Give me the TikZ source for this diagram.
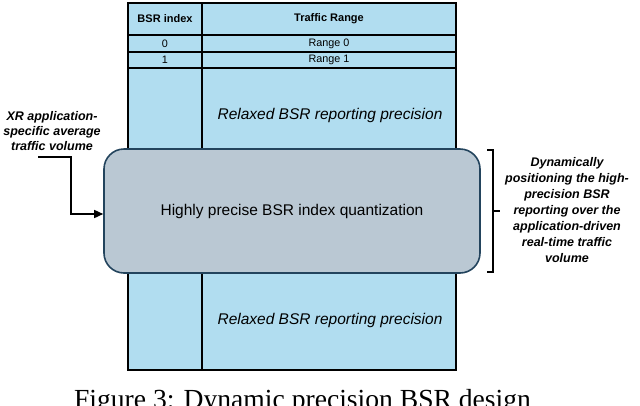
\documentclass[tikz,border=0pt]{standalone}
\usepackage{fontspec}
\setmainfont{Liberation Sans}
\newfontfamily\capfont{Liberation Serif}
\usetikzlibrary{arrows.meta}
\definecolor{tblue}{HTML}{B1DDF0}
\definecolor{bfill}{HTML}{BAC8D3}
\definecolor{bdraw}{HTML}{23445D}
\begin{document}
\begin{tikzpicture}[x=1pt,y=-1pt,
  tline/.style={draw=black, line width=1.3pt},
  hdr/.style={font=\bfseries\fontsize{11}{13}\selectfont, inner sep=0pt},
  rowtxt/.style={font=\fontsize{10.8}{12}\selectfont, inner sep=0pt},
  relaxed/.style={font=\itshape\fontsize{15.5}{18}\selectfont, inner sep=0pt},
  note/.style={font=\bfseries\itshape\fontsize{12.5}{15}\selectfont, align=center, inner sep=0pt},
  conn/.style={draw=black, line width=1.5pt},
  arrowc/.style={conn, -{Triangle[length=9pt,width=8pt]}}]
\useasboundingbox (0,0) rectangle (640,405);
\fill[white] (0,0) rectangle (640,405);
% table
\fill[tblue] (128,3) rectangle (456,370);
\draw[tline] (128,3) rectangle (456,370);
\draw[tline] (202,3) -- (202,370);
\draw[tline] (128,35) -- (456,35);
\draw[tline] (128,52) -- (456,52);
\draw[tline] (128,68) -- (456,68);
\node[hdr] (h1) at (165,19) {BSR index};
\node[hdr] (h2) at (329,19) {Traffic Range};
\node[rowtxt] (r0a) at (165,43.8) {0};
\node[rowtxt] (r0b) at (329,43.8) {Range 0};
\node[rowtxt] (r1a) at (165,60.2) {1};
\node[rowtxt] (r1b) at (329,60.2) {Range 1};
\node[relaxed] (rel1) at (330,115) {Relaxed BSR reporting precision};
\node[relaxed] (rel2) at (330,320) {Relaxed BSR reporting precision};
% main box
\node[draw=bdraw, fill=bfill, line width=1.6pt, rounded corners=20pt,
      minimum width=376pt, minimum height=124pt, inner sep=0pt,
      font=\fontsize{15.5}{18}\selectfont] (hp) at (292,211)
      {Highly precise BSR index quantization};
% left label and arrow
\node[note] (src) at (52,131) {XR application-\\specific average\\traffic volume};
\coordinate (s0) at (38,157);
\coordinate (bend) at (71,214);
\draw[arrowc] (s0) -| (bend) -- (bend -| hp.west);
% right bracket
\coordinate (bt) at (493,150);
\coordinate (bb) at (493,272);
\coordinate (bm) at (493,211);
\draw[line width=1.3pt] ([xshift=-6pt]bt) -- (bt) -- (bb) -- ([xshift=-6pt]bb);
\draw[line width=1.3pt] (bm) -- ([xshift=7pt]bm);
\node[note, font=\bfseries\itshape\fontsize{12.5}{16}\selectfont] (dyn) at (567,210)
  {Dynamically\\positioning the high-\\precision BSR\\reporting over the\\application-driven\\real-time traffic\\volume};
% caption
\node[font=\capfont\fontsize{27.6}{30}\selectfont, anchor=base, inner sep=0pt] (cap) at (302.5,408)
  {Figure 3: Dynamic precision BSR design};
\end{tikzpicture}
\end{document}
